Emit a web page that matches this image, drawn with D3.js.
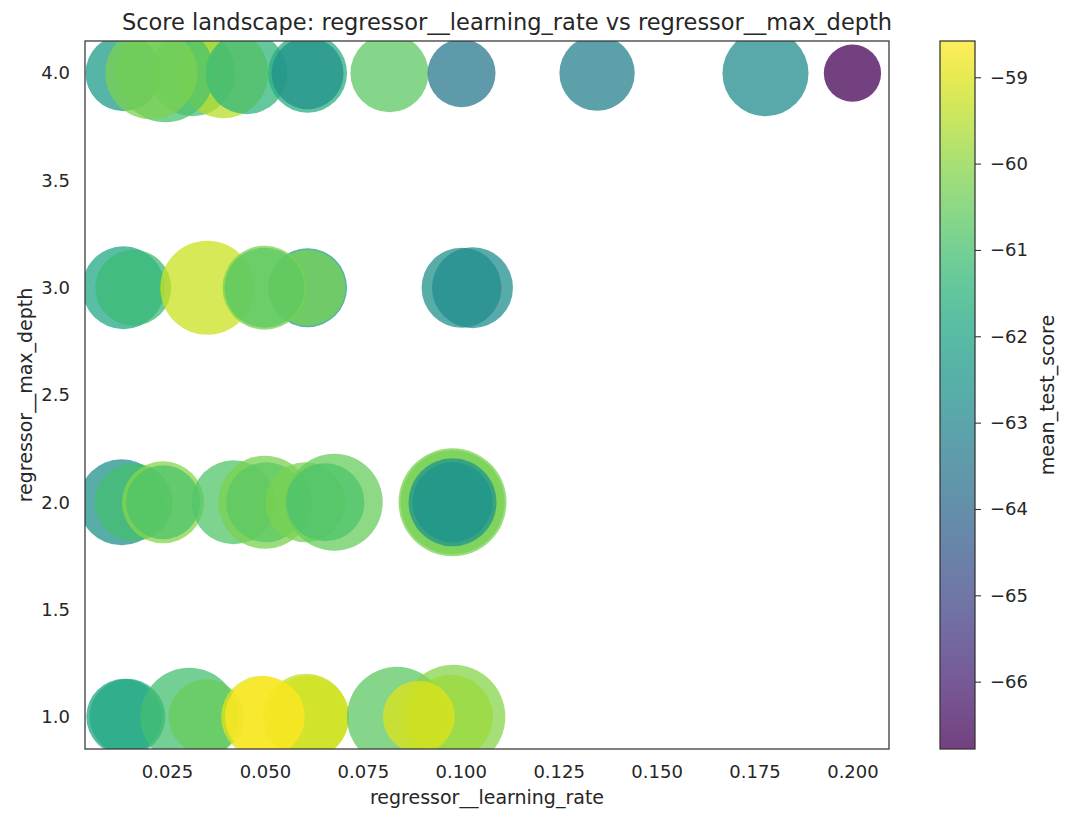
<!DOCTYPE html>
<html lang="en">
<head>
  <meta charset="UTF-8">
  <title>score landscape</title>
  <style>
    * {
      padding: 0;
      margin: 0;
    }
    body {
      background: #fff;
    }
    text {
      font-family: "DejaVu Sans", sans-serif;
      fill: #262626;
    }
  </style>
</head>
<body>
  <script src="https://d3js.org/d3.v7.min.js"></script>
  <script>
    // one entry per search candidate, in draw order
    const learningRate = [
      0.0139, 0.0315, 0.0394, 0.0453, 0.0246, 0.0210, 0.0609, 0.0609, 0.0818, 0.1002, 0.1348, 0.1778, 0.2000,
      0.0139, 0.0164, 0.0353, 0.0609, 0.0609, 0.0499, 0.0499, 0.1002, 0.1030,
      0.0134, 0.0165, 0.0240, 0.0240, 0.0420, 0.0500, 0.0503, 0.0603, 0.0677, 0.0654, 0.0979, 0.0979, 0.0979, 0.0979,
      0.0141, 0.0149, 0.0307, 0.0350, 0.0605, 0.0610, 0.0493, 0.0500, 0.0837, 0.0981, 0.0975, 0.0893
    ];
    const maxDepth = [
      4, 4, 4, 4, 4, 4, 4, 4, 4, 4, 4, 4, 4,
      3, 3, 3, 3, 3, 3, 3, 3, 3,
      2, 2, 2, 2, 2, 2, 2, 2, 2, 2, 2, 2, 2, 2,
      1, 1, 1, 1, 1, 1, 1, 1, 1, 1, 1, 1
    ];
    const nEstimators = [
      176, 226, 247, 205, 293, 258, 190, 158, 186, 141, 173, 226, 100,
      210, 176, 270, 190, 176, 215, 195, 195, 200,
      226, 186, 205, 167, 215, 264, 195, 195, 287, 186, 356, 330, 236, 195,
      176, 176, 293, 172, 226, 205, 205, 195, 305, 330, 215, 158
    ];
    const meanTestScore = [
      -62.27, -61.0, -59.5, -61.4, -60.9, -60.2, -61.6, -62.68, -60.63, -63.5, -63.17, -62.84, -66.78,
      -61.86, -61.2, -59.24, -62.27, -60.22, -60.22, -60.63, -62.6, -62.75,
      -62.68, -61.04, -60.06, -60.88, -60.8, -60.22, -60.63, -60.22, -60.47, -60.88, -60.22, -60.3, -62.52, -62.52,
      -62.0, -61.8, -61.04, -60.47, -59.4, -59.15, -58.99, -58.58, -60.63, -60.06, -59.8, -58.99
    ];

    const xTicks = [0.025, 0.05, 0.075, 0.1, 0.125, 0.15, 0.175, 0.2];
    const yTicks = [1, 1.5, 2, 2.5, 3, 3.5, 4];
    const cbarTicks = [-66, -65, -64, -63, -62, -61, -60, -59];

    const width = 1069;
    const height = 824;
    const plot = { left: 85, right: 889, top: 41, bottom: 749 };
    const cbar = { left: 940, right: 975 };
    const alpha = 0.75;

    const points = learningRate.map((lr, i) => ({
      lr, depth: maxDepth[i], n: nEstimators[i], score: meanTestScore[i]
    }));

    // matplotlib style 5% margins
    const pad = ([a, b]) => [a - (b - a) * 0.05, b + (b - a) * 0.05];

    const x = d3.scaleLinear()
      .domain(pad(d3.extent(learningRate)))
      .range([plot.left, plot.right]);
    const y = d3.scaleLinear()
      .domain(pad(d3.extent(maxDepth)))
      .range([plot.bottom, plot.top]);
    const r = d3.scaleSqrt()
      .domain([0, 500])
      .range([0, 64]);
    const scoreExtent = d3.extent(meanTestScore);
    const color = d3.scaleSequential(d3.interpolateViridis)
      .domain(scoreExtent);
    const cy = d3.scaleLinear()
      .domain(scoreExtent)
      .range([plot.bottom, plot.top]);

    const svg = d3.select('body')
      .append('svg')
      .attr('width', width)
      .attr('height', height);

    svg.append('clipPath')
      .attr('id', 'plot-clip')
      .append('rect')
      .attr('x', plot.left)
      .attr('y', plot.top)
      .attr('width', plot.right - plot.left)
      .attr('height', plot.bottom - plot.top);

    svg.append('g')
      .attr('clip-path', 'url(#plot-clip)')
      .selectAll('circle')
      .data(points)
      .join('circle')
      .attr('cx', d => x(d.lr))
      .attr('cy', d => y(d.depth))
      .attr('r', d => r(d.n))
      .attr('fill', d => color(d.score))
      .attr('fill-opacity', alpha);

    // axes
    const xAxis = svg.append('g')
      .attr('transform', `translate(0,${plot.bottom})`)
      .call(d3.axisBottom(x).tickValues(xTicks).tickFormat(d3.format('.3f')).tickSize(0).tickPadding(16));
    const yAxis = svg.append('g')
      .attr('transform', `translate(${plot.left},0)`)
      .call(d3.axisLeft(y).tickValues(yTicks).tickFormat(d3.format('.1f')).tickSize(0).tickPadding(15));
    [xAxis, yAxis].forEach(g => {
      g.select('.domain').remove();
      g.selectAll('text').attr('font-size', 18).attr('font-family', null);
    });

    svg.append('rect')
      .attr('x', plot.left)
      .attr('y', plot.top)
      .attr('width', plot.right - plot.left)
      .attr('height', plot.bottom - plot.top)
      .attr('fill', 'none')
      .attr('stroke', '#333')
      .attr('stroke-width', 1.25);

    // figure-level title, centred on the uncropped figure
    svg.append('text')
      .attr('x', 507)
      .attr('y', 30)
      .attr('text-anchor', 'middle')
      .attr('font-size', 22.5)
      .text('Score landscape: regressor__learning_rate vs regressor__max_depth');

    svg.append('text')
      .attr('x', (plot.left + plot.right) / 2)
      .attr('y', 804)
      .attr('text-anchor', 'middle')
      .attr('font-size', 19)
      .text('regressor__learning_rate');

    svg.append('text')
      .attr('transform', `translate(25,${(plot.top + plot.bottom) / 2}) rotate(-90)`)
      .attr('dy', '0.35em')
      .attr('text-anchor', 'middle')
      .attr('font-size', 19)
      .text('regressor__max_depth');

    // colorbar
    const grad = svg.append('defs')
      .append('linearGradient')
      .attr('id', 'cbar-grad')
      .attr('x1', 0).attr('y1', 1)
      .attr('x2', 0).attr('y2', 0);
    grad.selectAll('stop')
      .data(d3.range(0, 1.0001, 0.05))
      .join('stop')
      .attr('offset', d => d)
      .attr('stop-color', d => d3.interpolateViridis(d))
      .attr('stop-opacity', alpha);

    svg.append('rect')
      .attr('x', cbar.left)
      .attr('y', plot.top)
      .attr('width', cbar.right - cbar.left)
      .attr('height', plot.bottom - plot.top)
      .attr('fill', 'url(#cbar-grad)')
      .attr('stroke', '#333')
      .attr('stroke-width', 1.25);

    const cAxis = svg.append('g')
      .attr('transform', `translate(${cbar.right},0)`)
      .call(d3.axisRight(cy).tickValues(cbarTicks).tickFormat(d3.format('d')).tickSize(6).tickPadding(9));
    cAxis.select('.domain').remove();
    cAxis.selectAll('line').attr('stroke', '#333').attr('stroke-width', 1.1);
    cAxis.selectAll('text').attr('font-size', 18).attr('font-family', null);

    svg.append('text')
      .attr('transform', `translate(1047,${(plot.top + plot.bottom) / 2}) rotate(-90)`)
      .attr('dy', '0.35em')
      .attr('text-anchor', 'middle')
      .attr('font-size', 19)
      .text('mean_test_score');
  </script>
</body>
</html>
